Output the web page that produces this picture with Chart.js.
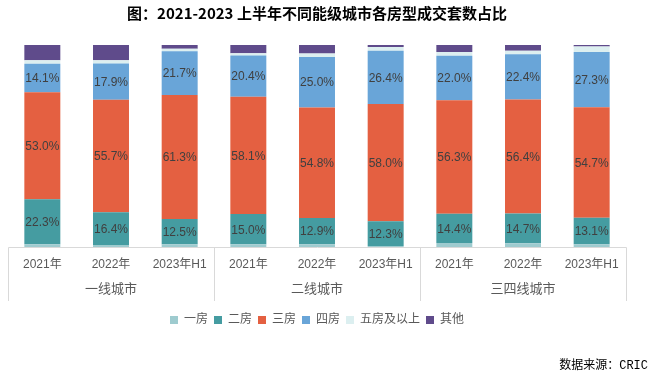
<!DOCTYPE html>
<html>
<head>
<meta charset="utf-8">
<script src="https://cdn.jsdelivr.net/npm/chart.js@4.4.1/dist/chart.umd.min.js"></script>
<style>
html,body{margin:0;padding:0;background:#fff;}
#wrap{width:653px;height:381px;}
</style>
</head>
<body>
<div id="wrap"><canvas id="c" width="653" height="381"></canvas></div>
<script>
const categories = ['2021年','2022年','2023年H1','2021年','2022年','2023年H1','2021年','2022年','2023年H1'];
const groups = ['一线城市','二线城市','三四线城市'];
const seriesNames = ['一房','二房','三房','四房','五房及以上','其他'];
const room1 = [1.3, 0.8, 1.4, 1.3, 1.4, 0.5, 2.0, 1.9, 1.4];
const room2 = [22.3, 16.4, 12.5, 15.0, 12.9, 12.3, 14.4, 14.7, 13.1];
const room3 = [53.0, 55.7, 61.3, 58.1, 54.8, 58.0, 56.3, 56.4, 54.7];
const room4 = [14.1, 17.9, 21.7, 20.4, 25.0, 26.4, 22.0, 22.4, 27.3];
const room5 = [1.8, 1.6, 1.3, 1.1, 1.7, 1.8, 1.8, 1.7, 2.8];
const other = [7.5, 7.6, 1.8, 4.1, 4.2, 1.0, 3.5, 2.9, 0.7];
const titleText = '图：2021-2023 上半年不同能级城市各房型成交套数占比';
const sourceText = '数据来源：CRIC';

const colors = ['#9ecbcf','#459ca1','#e46041','#69a5d8','#dceff0','#5f4b8b'];
const allSeries = [room1, room2, room3, room4, room5, other];
const labeled = [false, true, true, true, false, false];

const FONT = "'Liberation Sans', 'Noto Sans CJK SC', sans-serif";

const decorPlugin = {
  id: 'decor',
  afterDatasetsDraw(chart) {
    const ctx = chart.ctx;
    ctx.save();
    ctx.font = '12px ' + FONT;
    ctx.fillStyle = '#404040';
    ctx.textAlign = 'center';
    ctx.textBaseline = 'middle';
    chart.data.datasets.forEach((ds, di) => {
      if (!labeled[di]) return;
      const meta = chart.getDatasetMeta(di);
      meta.data.forEach((el, i) => {
        const v = ds.data[i];
        const y = (el.y + el.base) / 2;
        ctx.fillText(v.toFixed(1) + '%', el.x, y + 1);
      });
    });
    ctx.restore();
  },
  afterDraw(chart) {
    const ctx = chart.ctx;
    const xs = chart.scales.x;
    const area = chart.chartArea;
    const step = xs.getPixelForValue(1) - xs.getPixelForValue(0);
    const left = xs.getPixelForValue(0) - step / 2;
    const right = xs.getPixelForValue(categories.length - 1) + step / 2;
    const yTop = area.bottom;
    const yBot = area.bottom + 54;
    ctx.save();
    ctx.strokeStyle = '#d9d9d9';
    ctx.lineWidth = 1;
    ctx.beginPath();
    ctx.moveTo(Math.round(left) + 0.5, Math.round(yTop) + 0.5);
    ctx.lineTo(Math.round(right) + 0.5, Math.round(yTop) + 0.5);
    for (let g = 0; g <= groups.length; g++) {
      const x = Math.round(left + g * 3 * step) + 0.5;
      ctx.moveTo(x, Math.round(yTop) + 0.5);
      ctx.lineTo(x, yBot);
    }
    ctx.stroke();
    ctx.font = '13px ' + FONT;
    ctx.fillStyle = '#595959';
    ctx.textAlign = 'center';
    ctx.textBaseline = 'middle';
    groups.forEach((g, gi) => {
      const cx = (xs.getPixelForValue(gi * 3) + xs.getPixelForValue(gi * 3 + 2)) / 2;
      ctx.fillText(g, cx, area.bottom + 42);
    });
    ctx.font = "12px 'Liberation Mono', 'Noto Sans CJK SC', monospace";
    ctx.fillStyle = '#000000';
    ctx.textAlign = 'right';
    ctx.fillText(sourceText, 648, 366);
    ctx.restore();
  }
};

new Chart(document.getElementById('c'), {
  type: 'bar',
  data: {
    labels: categories,
    datasets: allSeries.map((arr, i) => ({
      label: seriesNames[i],
      data: arr,
      backgroundColor: colors[i],
      borderWidth: 0,
      categoryPercentage: 1,
      barPercentage: 0.524
    }))
  },
  options: {
    responsive: false,
    animation: false,
    devicePixelRatio: 1,
    layout: { padding: { left: 8, right: 27, top: 0, bottom: 45 } },
    plugins: {
      title: {
        display: true,
        text: titleText,
        color: '#000000',
        font: { family: "'Noto Sans CJK SC', 'Liberation Sans', sans-serif", size: 15, weight: 'bold' },
        padding: { top: 4, bottom: 23 }
      },
      legend: {
        position: 'bottom',
        labels: {
          boxWidth: 8,
          boxHeight: 8,
          padding: 6,
          color: '#595959',
          font: { family: FONT, size: 12 }
        }
      },
      tooltip: { enabled: false }
    },
    scales: {
      x: {
        stacked: true,
        grid: { display: false, drawTicks: false },
        border: { display: false },
        ticks: { color: '#595959', font: { family: FONT, size: 12 }, padding: 10, maxRotation: 0, autoSkip: false },
        afterFit(s) { s.height = 61; }
      },
      y: {
        stacked: true,
        min: 0,
        max: 100,
        display: false
      }
    }
  },
  plugins: [decorPlugin]
});
</script>
</body>
</html>
